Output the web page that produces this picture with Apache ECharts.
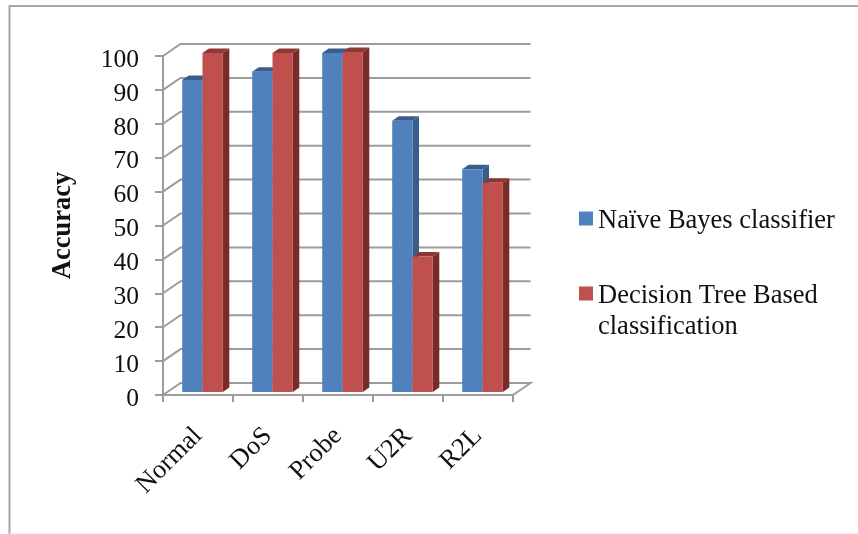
<!DOCTYPE html>
<html>
<head>
<meta charset="utf-8">
<style>html,body{margin:0;padding:0;background:#fff}#c{width:858px;height:534px}</style>
<script src="https://cdn.jsdelivr.net/npm/echarts@6/dist/echarts.min.js"></script>
</head>
<body>
<div id="c"></div>
<script>
const categories = ["Normal", "DoS", "Probe", "U2R", "R2L"];
const naiveBayes = [92, 94.5, 100, 80, 65.7];
const decisionTree = [100, 100, 100.3, 40, 61.7];
const yTicks = [0, 10, 20, 30, 40, 50, 60, 70, 80, 90, 100];
const seriesNames = ["Naïve Bayes classifier", "Decision Tree Based classification"];

const FONT = '"Liberation Serif", "Times New Roman", serif';
const GRAY = '#9c9c9c';
const WALL = {dx: 17.5, dy: -12};
const DEPTH = {dx: 6.5, dy: -4.5};
const BAR = {shift: 4.5, lift: -3, width: 0.29};
const SWATCH = 'path://M0 0H14V14H0ZM0 20L0 20Z';

function wallItem(params, api) {
  const cs = params.coordSys;
  const y = api.coord([0, api.value(1)])[1];
  const x0 = cs.x, x1 = cs.x + cs.width;
  const pts = [[x0, y], [x0 + WALL.dx, y + WALL.dy], [x1 + WALL.dx, y + WALL.dy]];
  if (api.value(1) === 0) pts.push([x1, y]);
  return {type: 'polyline', shape: {points: pts}, style: {stroke: GRAY, lineWidth: 2, fill: null}};
}
function barRenderer(side, front, dark, topc) {
  return function (params, api) {
    const c = api.coord([api.value(0), api.value(1)]);
    const b = api.coord([api.value(0), 0]);
    const w = api.size([1, 0])[0] * BAR.width;
    const x0 = c[0] + BAR.shift + (side < 0 ? -w : 0);
    const x1 = x0 + w;
    const yt = c[1] + BAR.lift, yb = b[1] + BAR.lift;
    const d = DEPTH;
    return {type: 'group', children: [
      {type: 'polygon', shape: {points: [[x1, yt], [x1 + d.dx, yt + d.dy], [x1 + d.dx, yb + d.dy], [x1, yb]]}, style: {fill: dark}},
      {type: 'polygon', shape: {points: [[x0, yt], [x0 + d.dx, yt + d.dy], [x1 + d.dx, yt + d.dy], [x1, yt]]}, style: {fill: topc}},
      {type: 'rect', shape: {x: x0, y: yt, width: w, height: yb - yt}, style: {fill: front}}
    ]};
  };
}

const chart = echarts.init(document.getElementById('c'), null, {renderer: 'canvas'});
chart.setOption({
  animation: false,
  backgroundColor: '#ffffff',
  grid: {left: 163, top: 56, width: 350, height: 339},
  legend: [
    {data: [seriesNames[0]], left: 579, top: 208, padding: 0, orient: 'vertical', icon: SWATCH, itemWidth: 14, itemHeight: 20, itemGap: 0,
     textStyle: {fontFamily: FONT, fontSize: 26.5, color: '#111'}},
    {data: [seriesNames[1]], left: 579, top: 283, padding: 0, orient: 'vertical', icon: SWATCH, itemWidth: 14, itemHeight: 20, itemGap: 0,
     formatter: () => 'Decision Tree Based',
     textStyle: {fontFamily: FONT, fontSize: 26.5, color: '#111'}}
  ],
  graphic: [
    {type: 'polyline', silent: true, shape: {points: [[9.5, 534], [9.5, 6], [858, 6]]}, style: {stroke: '#a6a6a6', lineWidth: 2, fill: null}},
    {type: 'line', silent: true, shape: {x1: 9.5, y1: 533, x2: 858, y2: 533}, style: {stroke: '#eeeeee', lineWidth: 1}},
    {type: 'text', silent: true, left: 598, top: 314, style: {text: 'classification', font: '26.5px ' + FONT, fill: '#111'}}
  ],
  xAxis: {
    type: 'category', data: categories, boundaryGap: true,
    axisLine: {show: true, lineStyle: {color: GRAY, width: 2}},
    axisTick: {show: true, length: 7, lineStyle: {color: GRAY, width: 2}},
    axisLabel: {rotate: 45, interval: 0, margin: 37, fontFamily: FONT, fontSize: 26.5, color: '#111'},
    splitLine: {show: false}
  },
  yAxis: {
    type: 'value', min: 0, max: 100, interval: 10,
    name: 'Accuracy', nameLocation: 'middle', nameGap: 86, nameRotate: 90,
    nameTextStyle: {fontFamily: FONT, fontSize: 26.5, fontWeight: 'bold', color: '#111'},
    axisLine: {show: true, lineStyle: {color: GRAY, width: 2}},
    axisTick: {show: true, length: 8, lineStyle: {color: GRAY, width: 2}},
    axisLabel: {margin: 24, fontFamily: FONT, fontSize: 25.5, color: '#111', lineHeight: 34, verticalAlign: 'top', padding: [-13, 0, 0, 0]},
    splitLine: {show: false}
  },
  series: [
    {type: 'custom', name: '__wall', silent: true, z: 1, renderItem: wallItem, data: yTicks.map(v => [0, v]), encode: {x: 0, y: 1}, legendHoverLink: false},
    {type: 'custom', name: seriesNames[0], z: 2, itemStyle: {color: '#4f81bd'},
     renderItem: barRenderer(-1, '#4f81bd', '#385d8a', '#385d8a'),
     data: naiveBayes.map((v, i) => [i, v]), encode: {x: 0, y: 1}},
    {type: 'custom', name: seriesNames[1], z: 3, itemStyle: {color: '#c0504d'},
     renderItem: barRenderer(1, '#c0504d', '#772c2a', '#8c3836'),
     data: decisionTree.map((v, i) => [i, v]), encode: {x: 0, y: 1}}
  ]
});
</script>
</body>
</html>
